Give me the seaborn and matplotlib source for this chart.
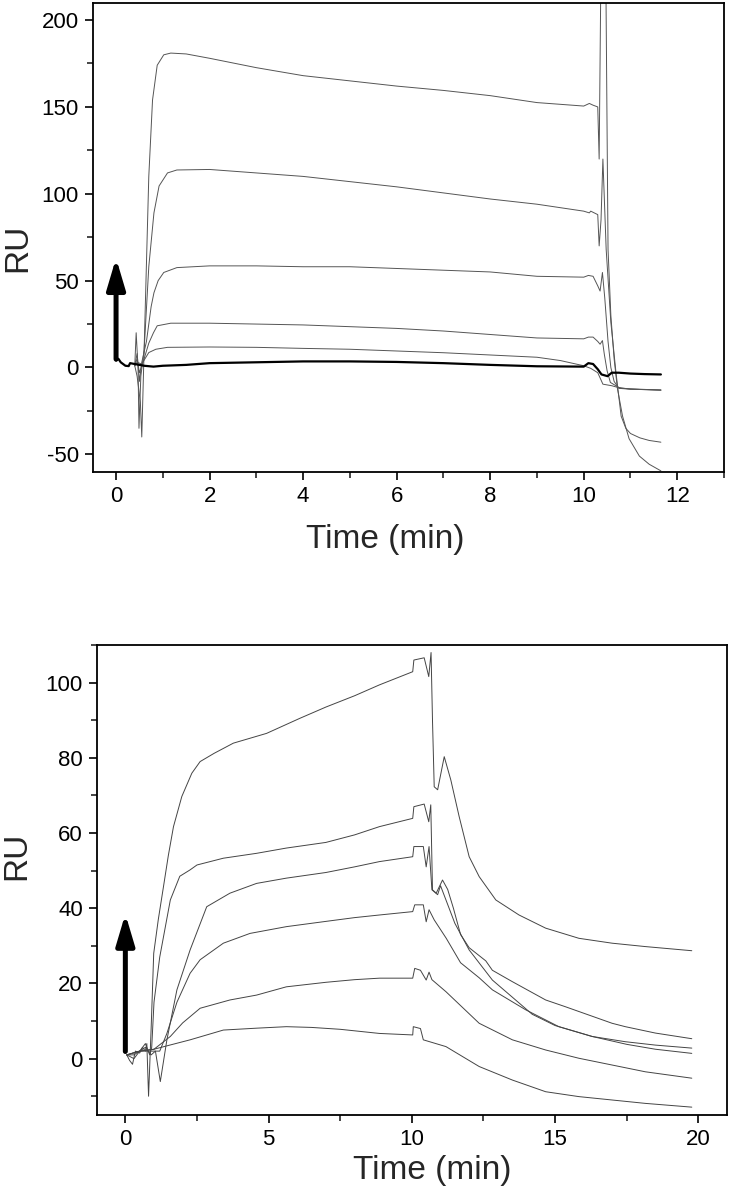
import numpy as np
import pandas as pd
import matplotlib
matplotlib.use("Agg")
import matplotlib.pyplot as plt
import seaborn as sns
from matplotlib.ticker import MultipleLocator

# ---------------- data: top panel (time in min, response in RU) ----------------
top_A_t = [0.4, 0.45, 0.52, 0.55, 0.58, 0.63, 0.7, 0.78, 0.88, 1.02, 1.17, 1.5, 2.0, 3.0, 4.0, 5.0, 6.0,
           7.0, 8.0, 9.0, 10.0, 10.12, 10.2, 10.3, 10.33, 10.37, 10.47, 10.52, 10.58, 10.65, 10.72,
           10.83, 10.97, 11.19, 11.4, 11.65]
top_A_v = [1, -5, -20, -40, -10, 40, 110, 154, 174, 180, 181, 180.5, 178, 172.6, 168, 165, 162,
           159.5, 156.5, 152.5, 150.5, 152, 151, 150, 120, 235, 235, 68, 30, 5, -12,
           -28, -41, -51, -55.7, -59.5]

top_B_t = [0.4, 0.43, 0.47, 0.49, 0.53, 0.6, 0.7, 0.81, 0.92, 1.1, 1.3, 2.0, 3.0, 4.0, 5.0, 6.0, 7.0,
           8.0, 9.0, 10.0, 10.12, 10.15, 10.3, 10.33, 10.37, 10.41, 10.48, 10.58, 10.69, 10.8, 10.9,
           11.0, 11.2, 11.4, 11.65]
top_B_v = [1, 20, 0, -35, -5, 10, 58, 89, 104.5, 112, 113.7, 114, 112, 110, 107, 104, 100.5,
           97, 94, 90, 89, 90, 88, 70, 85, 120, 68, 26, -3, -28, -35,
           -38, -40.5, -42, -43]

top_C_t = [0.4, 0.45, 0.5, 0.55, 0.65, 0.75, 0.81, 0.9, 1.02, 1.3, 2.0, 3.0, 4.0, 5.0, 6.0, 7.0, 8.0,
           9.0, 10.0, 10.1, 10.2, 10.3, 10.35, 10.4, 10.45, 10.52, 10.58, 10.65, 10.75, 11.0, 11.65]
top_C_v = [1, 8, -8, 3, 15, 35, 43, 50, 54.7, 57.5, 58.5, 58.5, 58, 58, 57, 56, 55,
           52.5, 52, 53, 52.5, 47, 44, 54.7, 40, 15, 0, -8, -12, -12.5, -13]

top_D_t = [0.4, 0.45, 0.5, 0.6, 0.7, 0.8, 0.88, 1.17, 1.5, 2.0, 3.0, 4.0, 5.0, 6.0, 7.0, 8.0, 9.0,
           10.0, 10.1, 10.2, 10.3, 10.35, 10.4, 10.44, 10.5, 10.57, 10.75, 11.0, 11.65]
top_D_v = [1, 5, -3, 5, 14, 20, 24, 25.5, 25.5, 25.5, 25, 24.5, 23.5, 22.5, 21, 19, 17,
           16.5, 17.5, 17.5, 15, 13.4, 15.5, 7.7, -1.9, -8.6, -11.5, -12.5, -13]

top_E_t = [0.4, 0.45, 0.55, 0.7, 0.85, 1.1, 2.0, 3.0, 4.0, 5.0, 6.0, 7.0, 8.0, 9.0, 9.5, 10.0,
           10.15, 10.3, 10.41, 10.6, 10.8, 11.2, 11.65]
top_E_v = [1, 3, 2, 8.6, 10.5, 11.6, 11.8, 11.6, 11, 10.5, 9.5, 8.5, 7.2, 5.9, 4, 1,
           -0.5, -3, -9.6, -10.5, -12, -12.5, -13]

top_F_t = [0.0, 0.05, 0.1, 0.2, 0.27, 0.3, 0.4, 0.5, 0.6, 0.8, 1.0, 1.5, 2.0, 3.0, 4.0, 5.0, 6.0,
           7.0, 8.0, 9.0, 10.0, 10.1, 10.2, 10.3, 10.38, 10.51, 10.6, 10.75, 11.0, 11.3, 11.65]
top_F_v = [4, 5, 3, 1, 0.8, 2.5, 2, 1.5, 1, 0.5, 1, 1.5, 2.5, 3, 3.5, 3.5, 3.2,
           2.5, 1.5, 0.7, 0.5, 2.5, 2, -1, -4, -5, -3, -3, -3.5, -3.8, -4]

# ---------------- data: bottom panel ----------------
bot_P1_t = [0.05, 0.15, 0.25, 0.35, 0.5, 0.6, 0.7, 0.75, 0.81, 0.9, 0.99, 1.15, 1.33, 1.5, 1.68, 1.97,
            2.32, 2.61, 3.1, 3.77, 4.93, 6.09, 7.0, 8.0, 8.87, 10.03, 10.07, 10.43, 10.59, 10.67, 10.72,
            10.78, 10.9, 11.13, 11.36, 11.65, 12.0, 12.35, 12.93, 13.74, 14.67, 15.83, 16.99, 18.15, 19.77]
bot_P1_v = [1, -0.5, -1.5, 2, 1.5, 3, 2, 4, -10, 8, 28, 37, 45.7, 54, 61.7, 69.7,
            75.9, 79, 81.2, 83.9, 86.5, 90.5, 93.5, 96.5, 99.4, 102.9, 106, 106.6, 101.6, 108, 90,
            72.3, 71.5, 80.3, 74.1, 64.4, 53.7, 48.4, 42.2, 38.2, 34.7, 32, 30.7, 29.8, 28.7]

bot_P2_t = [0.05, 0.3, 0.5, 0.7, 0.85, 0.92, 1.0, 1.2, 1.57, 1.9, 2.26, 2.5, 3.42, 4.58, 5.62, 7.0,
            8.0, 8.87, 10.03, 10.07, 10.43, 10.59, 10.66, 10.72, 10.85, 11.07, 11.25, 11.45, 11.7,
            12.0, 12.58, 12.81, 13.5, 14.67, 15.36, 16.99, 17.45, 18.5, 19.77]
bot_P2_v = [1, 1, 2, 4, 1, 3, 15, 27, 42.2, 48.5, 50.2, 51.5, 53.3, 54.6, 56, 57.5,
            59.5, 61.7, 63.9, 67, 67.7, 63, 67.5, 44.9, 44, 47.5, 45, 40, 33,
            29.5, 26, 23.5, 20.5, 15.6, 13.8, 9.4, 8.5, 6.8, 5.3]

bot_P3_t = [0.05, 0.3, 0.5, 0.7, 0.9, 1.05, 1.22, 1.45, 1.8, 2.26, 2.84, 3.65, 4.58, 5.62, 7.0, 8.0,
            8.87, 10.03, 10.07, 10.4, 10.5, 10.6, 10.7, 10.9, 11.0, 11.2, 11.5, 12.0, 12.81, 13.62,
            14.2, 15.0, 16.29, 17.5, 18.5, 19.77]
bot_P3_v = [1, 0, 2, 3, 1, 2, -6.1, 5, 18.3, 28.9, 40.4, 44, 46.6, 48, 49.5, 51,
            52.4, 53.7, 56.4, 56.4, 51, 56.4, 44.9, 43.6, 46, 42, 36, 28.9, 20.9, 15.6,
            11.8, 8.8, 5.9, 3.8, 2.5, 1.4]

bot_P4_t = [0.05, 0.5, 0.9, 1.2, 1.45, 1.8, 2.26, 2.61, 3.42, 4.35, 5.62, 7.0, 8.0, 8.87, 10.03,
            10.1, 10.4, 10.5, 10.6, 10.78, 11.2, 11.7, 12.35, 12.81, 13.97, 15.13, 16.29, 17.45,
            18.5, 19.77]
bot_P4_v = [1, 2, 2, 2, 6.7, 15, 22.7, 26.3, 30.7, 33.3, 35.1, 36.5, 37.5, 38.2, 39.1,
            40.9, 40.9, 36.4, 39.6, 36.9, 32, 25.5, 21.5, 18.3, 13, 8.5, 5.9, 4.5,
            3.6, 2.8]

bot_P5_t = [0.05, 0.5, 1.0, 1.57, 2.0, 2.61, 3.65, 4.58, 5.62, 7.0, 8.0, 8.87, 10.03, 10.1, 10.3,
            10.5, 10.6, 10.7, 11.19, 12.35, 13.51, 14.67, 15.83, 16.99, 18.15, 19.77]
bot_P5_v = [1, 2, 2.5, 5.9, 9.5, 13.4, 15.6, 16.9, 19.1, 20.3, 21, 21.4, 21.4, 24, 23.5,
            20.9, 23, 21, 17.8, 9.4, 5, 2.3, 0.1, -1.7, -3.5, -5.2]

bot_P6_t = [0.05, 0.5, 1.0, 1.5, 2.26, 3.42, 4.58, 5.62, 6.5, 7.5, 8.87, 10.03, 10.05, 10.3, 10.4,
            11.19, 12.35, 13.51, 14.67, 15.83, 16.99, 18.15, 19.77]
bot_P6_v = [1, 2, 2.5, 3.5, 5, 7.6, 8.1, 8.5, 8.3, 7.8, 6.7, 6.3, 8.5, 8, 5,
            3.2, -2.1, -5.7, -8.8, -10.1, -11, -11.9, -12.9]

# injection arrows (time, start RU, end RU)
top_arrow = (0.0, 4.8, 63.0)
bot_arrow = (0.0, 1.9, 38.5)


def frame(series):
    parts = []
    for name, (t, v) in series.items():
        parts.append(pd.DataFrame({"time": t, "RU": v, "curve": name}))
    return pd.concat(parts, ignore_index=True)


top_thin = frame({"A": (top_A_t, top_A_v), "B": (top_B_t, top_B_v), "C": (top_C_t, top_C_v),
                  "D": (top_D_t, top_D_v), "E": (top_E_t, top_E_v)})
top_thick = frame({"F": (top_F_t, top_F_v)})
bot_df = frame({"P1": (bot_P1_t, bot_P1_v), "P2": (bot_P2_t, bot_P2_v), "P3": (bot_P3_t, bot_P3_v),
                "P4": (bot_P4_t, bot_P4_v), "P5": (bot_P5_t, bot_P5_v), "P6": (bot_P6_t, bot_P6_v)})

sns.set_style("ticks")
plt.rcParams["font.family"] = ["Liberation Sans", "DejaVu Sans"]
plt.rcParams["axes.unicode_minus"] = False

fig = plt.figure(figsize=(7.32, 12), dpi=100)
ax1 = fig.add_axes([0.1266, 0.6069, 0.9891 - 0.1266, 0.99775 - 0.6069])
ax2 = fig.add_axes([0.1321, 0.0708, 0.9932 - 0.1321, 0.4625 - 0.0708])

sns.lineplot(data=top_thin, x="time", y="RU", units="curve", estimator=None, sort=False,
             color="#555555", lw=0.7, ax=ax1, legend=False)
sns.lineplot(data=top_thick, x="time", y="RU", units="curve", estimator=None, sort=False,
             color="black", lw=1.6, ax=ax1, legend=False)
sns.lineplot(data=bot_df, x="time", y="RU", units="curve", estimator=None, sort=False,
             color="#444444", lw=0.7, ax=ax2, legend=False)

ax1.set_xlim(-0.5, 13)
ax1.set_ylim(-60, 210)
ax1.xaxis.set_major_locator(MultipleLocator(2))
ax1.xaxis.set_minor_locator(MultipleLocator(1))
ax1.yaxis.set_major_locator(MultipleLocator(50))
ax1.yaxis.set_minor_locator(MultipleLocator(25))

ax2.set_xlim(-1, 21)
ax2.set_ylim(-15, 110)
ax2.xaxis.set_major_locator(MultipleLocator(5))
ax2.xaxis.set_minor_locator(MultipleLocator(2.5))
ax2.yaxis.set_major_locator(MultipleLocator(20))
ax2.yaxis.set_minor_locator(MultipleLocator(10))

for ax, arr in ((ax1, top_arrow), (ax2, bot_arrow)):
    x0, y0, y1 = arr
    ax.annotate("", xy=(x0, y1), xytext=(x0, y0),
                arrowprops=dict(arrowstyle="-|>,head_length=1.85,head_width=0.55",
                                lw=3.6, color="black", shrinkA=0, shrinkB=0,
                                mutation_scale=10))
    for s in ax.spines.values():
        s.set_visible(True)
        s.set_linewidth(1.3)
        s.set_color("black")
    ax.tick_params(which="major", direction="out", length=6, width=1.2, labelsize=16,
                   pad=4, colors="black")
    ax.tick_params(which="minor", direction="out", length=4, width=1.2)
    ax.set_xlabel("Time (min)", fontsize=24)
    ax.set_ylabel("RU", fontsize=24)

ax1.xaxis.set_label_coords(0.463, -0.112)
ax1.yaxis.set_label_coords(-0.094, 0.477)
ax2.xaxis.set_label_coords(0.532, -0.084)
ax2.yaxis.set_label_coords(-0.103, 0.551)

fig.savefig("out.png", dpi=100)
